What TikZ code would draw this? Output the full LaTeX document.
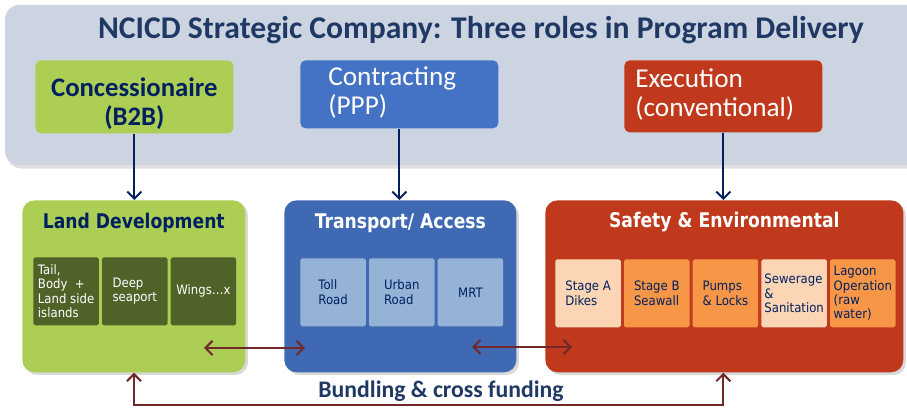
\documentclass[tikz,border=0pt]{standalone}
\usepackage{fontspec}
\setmainfont{Carlito}
\newfontfamily\boxfont[FakeStretch=0.9]{DejaVu Sans}
\newfontfamily\headfont[FakeStretch=0.85]{DejaVu Sans Bold}
\usetikzlibrary{arrows.meta, positioning, shadows}

\begin{document}
\begin{tikzpicture}[x=0.02cm, y=-0.02cm,
    >={Straight Barb[length=4pt, width=8pt]},
    role/.style={rounded corners=3pt, anchor=north west, minimum width=3.96cm},
    roletext/.style={inner sep=0pt, font=\fontsize{15.5}{16.6}\selectfont},
    group/.style={rounded corners=7pt, anchor=north west, minimum height=3.44cm,
        drop shadow={opacity=0.3, shadow xshift=1.5pt, shadow yshift=-1.5pt}},
    grouptitle/.style={font=\headfont\fontsize{11.5}{14}\selectfont},
    part/.style={rounded corners=1pt, minimum width=1.31cm, minimum height=1.36cm,
        inner xsep=1pt, align=left, font=\boxfont\fontsize{7.4}{8.2}\selectfont},
    link/.style={draw=linkcolor, line width=1.2pt},
    feed/.style={draw=navy, line width=1.1pt, ->},
    ]
    % Colours
    \definecolor{bannercolor}{RGB}{205,212,225}
    \definecolor{titlecolor}{RGB}{31,56,100}
    \definecolor{navy}{RGB}{0,32,96}
    \definecolor{landcolor}{RGB}{172,206,84}
    \definecolor{olive}{RGB}{79,98,40}
    \definecolor{ctrcolor}{RGB}{68,114,196}
    \definecolor{transcolor}{RGB}{63,105,178}
    \definecolor{partblue}{RGB}{149,179,215}
    \definecolor{redcolor}{RGB}{192,57,28}
    \definecolor{peach}{RGB}{252,213,181}
    \definecolor{orange}{RGB}{247,150,70}
    \definecolor{linkcolor}{RGB}{112,40,40}

    \useasboundingbox (0,0) rectangle (907,408);
    \clip (0,0) rectangle (907,408);

    % Banner
    \fill[bannercolor, rounded corners=8pt,
        drop shadow={opacity=0.25, shadow xshift=1pt, shadow yshift=-2pt}]
        (5,5) rectangle (930,165);
    \node[font=\bfseries\fontsize{18}{20}\selectfont, text=titlecolor] (title) at (481,30)
        {NCICD Strategic Company: Three roles in Program Delivery};

    % Roles
    \node[role, fill=landcolor, minimum height=1.46cm] (con) at (35,60) {};
    \node[role, fill=ctrcolor, minimum height=1.36cm] (ctr) at (300,60) {};
    \node[role, fill=redcolor, minimum height=1.44cm] (exe) at (624,60) {};
    \node[roletext, text=navy, align=center, font=\bfseries\fontsize{15.2}{16.6}\selectfont] (context)
        at ([yshift=-0.13cm]con.center) {Concessionaire\\(B2B)};
    \node[roletext, text=white, align=left, anchor=west] (ctrtext) at ([xshift=0.56cm, yshift=0.03cm]ctr.west)
        {Contracting\\(PPP)};
    \node[roletext, text=white, align=left, anchor=west] (exetext) at ([xshift=0.22cm, yshift=0.04cm]exe.west)
        {Execution\\(conventional)};

    % Programme blocks
    \node[group, fill=landcolor, minimum width=4.46cm] (land) at (22,200) {};
    \node[group, fill=transcolor, minimum width=4.64cm] (trans) at (284,200) {};
    \node[group, fill=redcolor, minimum width=7.16cm] (safe) at (545,200) {};
    \node[grouptitle, text=navy] at ([yshift=-0.46cm]land.north) {Land Development};
    \node[grouptitle, text=white] at ([yshift=-0.46cm]trans.north) {Transport/ Access};
    \node[grouptitle, text=white] at ([yshift=-0.44cm]safe.north) {Safety \& Environmental};

    % Land development parts
    \node[part, fill=olive, text=white, anchor=north west] (l1) at (33,257) {Tail,\\Body\ \ +\\Land side\\islands};
    \node[part, fill=olive, text=white, right=0.05cm of l1] (l2) {Deep\\seaport};
    \node[part, fill=olive, text=white, right=0.05cm of l2] (l3) {Wings\dots x};

    % Transport parts
    \node[part, fill=partblue, text=navy, anchor=north west] (t1) at (300,258) {Toll\\Road};
    \node[part, fill=partblue, text=navy, right=0.05cm of t1] (t2) {Urban\\Road};
    \node[part, fill=partblue, text=navy, right=0.05cm of t2] (t3) {MRT};

    % Safety parts
    \node[part, fill=peach, text=navy, anchor=north west] (s1) at (555,259) {Stage A\\Dikes};
    \node[part, fill=orange, text=navy, right=0.05cm of s1] (s2) {Stage B\\Seawall};
    \node[part, fill=orange, text=navy, right=0.05cm of s2] (s3) {Pumps\\\& Locks};
    \node[part, fill=peach, text=navy, right=0.05cm of s3] (s4) {Sewerage\\\&\\Sanitation};
    \node[part, fill=orange, text=navy, right=0.05cm of s4] (s5) {Lagoon\\Operation\\(raw\\water)};

    % Roles feed the blocks
    \draw[feed] (con.south) -- (con.south |- land.north);
    \draw[feed] (ctr.south) -- (ctr.south |- trans.north);
    \draw[feed] (exe.south) -- (exe.south |- safe.north);

    % Links between the blocks
    \coordinate (la) at (204,348);
    \coordinate (ta) at (305,348);
    \coordinate (tb) at (472,347);
    \coordinate (sa) at (572,347);
    \draw[link, <->] (la) -- (ta);
    \draw[link, <->] (tb) -- (sa);

    % Bundling
    \coordinate (bl) at (134,405);
    \draw[link, <->] (land.south -| bl) -- (bl) -| (exe.south |- safe.south);
    \node[font=\bfseries\fontsize{13.5}{15}\selectfont, text=titlecolor] (bundle) at (441,391)
        {Bundling \& cross funding};
\end{tikzpicture}
\end{document}
